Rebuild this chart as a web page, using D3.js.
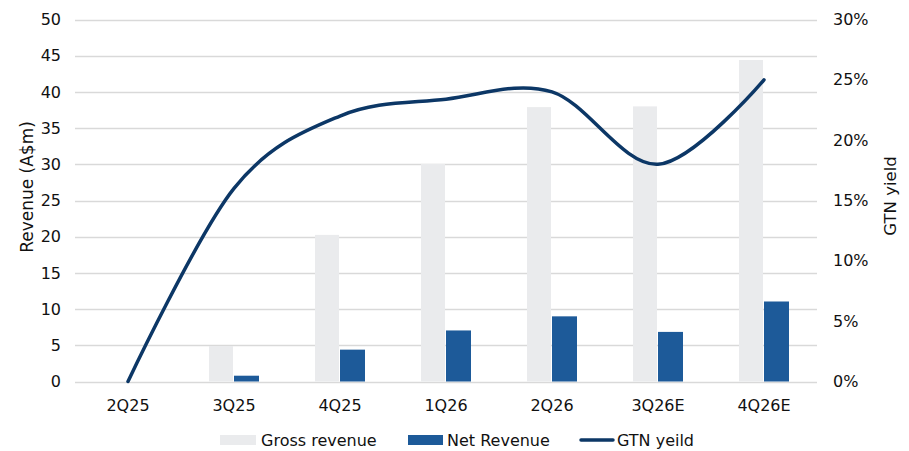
<!DOCTYPE html>
<html>
<head>
<meta charset="utf-8">
<script src="https://cdn.jsdelivr.net/npm/d3@7"></script>
<style>
  body { margin: 0; background: #fff; }
  svg text { font-family: "DejaVu Sans", Verdana, sans-serif; fill: #111; }
</style>
</head>
<body>
<div id="chart"></div>
<script>
const categories = ['2Q25', '3Q25', '4Q25', '1Q26', '2Q26', '3Q26E', '4Q26E'];
const grossRevenue = [0, 4.9, 20.25, 30.05, 37.9, 38.0, 44.4];
const netRevenue = [0, 0.8, 4.4, 7.05, 9.0, 6.85, 11.05];
const gtnYield = [0, 0.16, 0.22, 0.234, 0.24, 0.18, 0.25];
const leftTicks = [0, 5, 10, 15, 20, 25, 30, 35, 40, 45, 50];
const rightTicks = [0, 0.05, 0.10, 0.15, 0.20, 0.25, 0.30];

const width = 909, height = 451;
const plot = { left: 75, right: 817, top: 19.5, bottom: 381.5 };
const fontSize = 16;

const svg = d3.select('#chart').append('svg')
  .attr('width', width)
  .attr('height', height);

const x = d3.scaleBand().domain(categories).range([plot.left, plot.right]);
const xSub = d3.scaleBand().domain(['gross', 'net']).range([-25, 25]);
const yLeft = d3.scaleLinear().domain([0, 50]).range([plot.bottom, plot.top]);
const yRight = d3.scaleLinear().domain([0, 0.30]).range([plot.bottom, plot.top]);

// gridlines
svg.append('g')
  .selectAll('line')
  .data(leftTicks)
  .enter()
  .append('line')
  .attr('x1', plot.left)
  .attr('x2', plot.right)
  .attr('y1', d => Math.round(yLeft(d)) + 0.5)
  .attr('y2', d => Math.round(yLeft(d)) + 0.5)
  .attr('stroke', '#d9d9d9')
  .attr('stroke-width', 1.5);

function styleAxis(g) {
  g.select('.domain').remove();
  g.attr('font-size', fontSize).attr('font-family', '"DejaVu Sans", Verdana, sans-serif');
  g.selectAll('text').attr('fill', '#111');
}

// left axis
svg.append('g')
  .attr('transform', `translate(${plot.left},0)`)
  .call(d3.axisLeft(yLeft).tickValues(leftTicks).tickSize(0).tickPadding(14))
  .call(styleAxis);

// right axis
svg.append('g')
  .attr('transform', `translate(${plot.right},0)`)
  .call(d3.axisRight(yRight).tickValues(rightTicks).tickFormat(d3.format('.0%')).tickSize(0).tickPadding(16))
  .call(styleAxis);

// category axis
svg.append('g')
  .attr('transform', `translate(0,${plot.bottom})`)
  .call(d3.axisBottom(x).tickSize(0).tickPadding(18))
  .call(styleAxis);

// bars
const center = c => x(c) + x.bandwidth() / 2;
svg.append('g')
  .selectAll('rect')
  .data(categories.map((c, i) => ({ c, v: grossRevenue[i] })))
  .enter()
  .append('rect')
  .attr('x', d => center(d.c) + xSub('gross'))
  .attr('y', d => yLeft(d.v))
  .attr('width', xSub.bandwidth() - 1)
  .attr('height', d => plot.bottom - yLeft(d.v))
  .attr('fill', '#eaebed');

svg.append('g')
  .selectAll('rect')
  .data(categories.map((c, i) => ({ c, v: netRevenue[i] })))
  .enter()
  .append('rect')
  .attr('x', d => center(d.c) + xSub('net'))
  .attr('y', d => yLeft(d.v))
  .attr('width', xSub.bandwidth())
  .attr('height', d => plot.bottom - yLeft(d.v))
  .attr('fill', '#1d5a99');

// GTN yield line
const line = d3.line()
  .x(d => center(d.c))
  .y(d => yRight(d.v))
  .curve(d3.curveCatmullRom.alpha(0));

svg.append('path')
  .datum(categories.map((c, i) => ({ c, v: gtnYield[i] })))
  .attr('d', line)
  .attr('fill', 'none')
  .attr('stroke', '#0c3766')
  .attr('stroke-width', 3.5)
  .attr('stroke-linecap', 'round');

// axis titles
svg.append('text')
  .attr('transform', 'translate(33,187) rotate(-90)')
  .attr('text-anchor', 'middle')
  .attr('font-size', 17)
  .text('Revenue (A$m)');

svg.append('text')
  .attr('transform', 'translate(896,196) rotate(-90)')
  .attr('text-anchor', 'middle')
  .attr('font-size', 16.5)
  .text('GTN yield');

// legend
const legend = svg.append('g').attr('transform', 'translate(0,440)').attr('font-size', fontSize);
legend.append('rect').attr('x', 220).attr('y', -5).attr('width', 36).attr('height', 10).attr('fill', '#eaebed');
legend.append('text').attr('x', 261).attr('y', 6).text('Gross revenue');
legend.append('rect').attr('x', 408).attr('y', -5).attr('width', 35).attr('height', 10).attr('fill', '#1d5a99');
legend.append('text').attr('x', 447).attr('y', 6).text('Net Revenue');
legend.append('line').attr('x1', 581).attr('x2', 613).attr('y1', 0).attr('y2', 0)
  .attr('stroke', '#0c3766').attr('stroke-width', 3.5).attr('stroke-linecap', 'round');
legend.append('text').attr('x', 617).attr('y', 6).text('GTN yeild');
</script>
</body>
</html>
